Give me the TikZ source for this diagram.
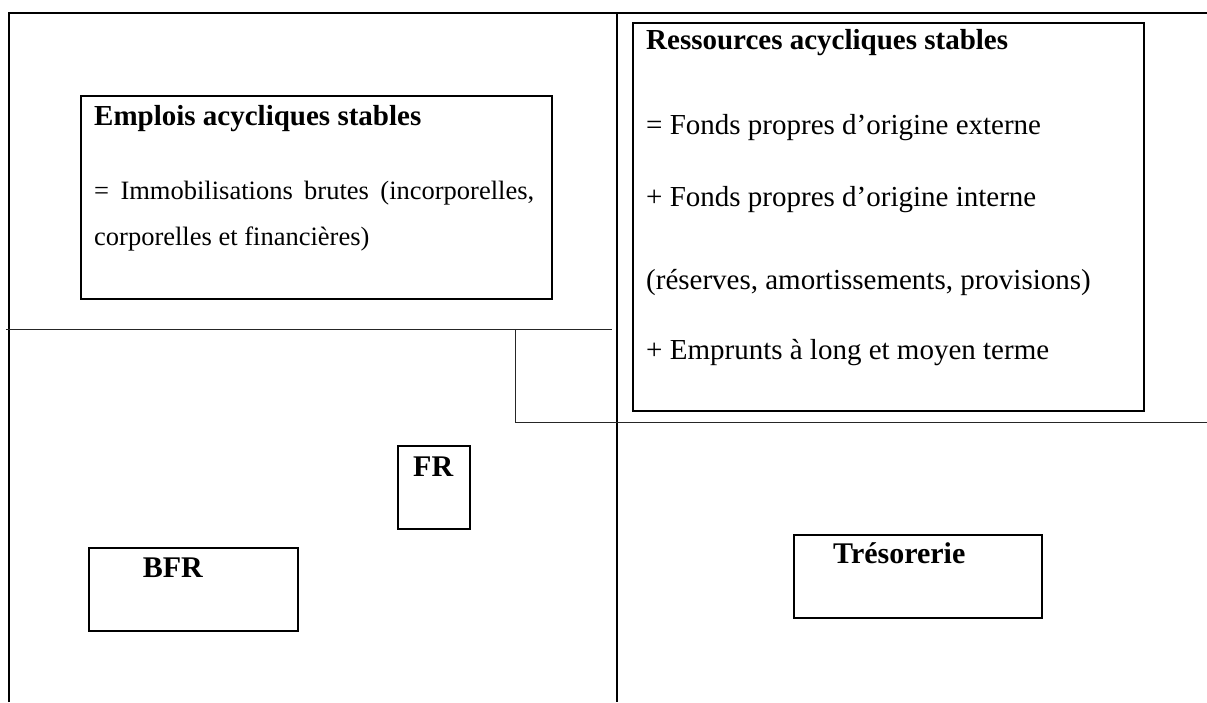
\documentclass[tikz,border=0pt]{standalone}
\usepackage{fontspec}
\setmainfont{Liberation Serif}
\begin{document}
\begin{tikzpicture}[x=1pt,y=-1pt,
  frame/.style={line width=2pt,black},
  thin/.style={line width=1.3pt,black!85},
  boxnode/.style={draw,line width=2pt,rectangle,inner sep=0pt,anchor=north west},
  title/.style={anchor=base west,inner sep=0pt,font=\fontsize{29}{34}\selectfont\bfseries},
  bodyR/.style={anchor=base west,inner sep=0pt,font=\fontsize{29}{34}\selectfont},
  bodyL/.style={anchor=base west,inner sep=0pt,font=\fontsize{26.5}{32}\selectfont}]
\useasboundingbox (0,0) rectangle (1207,702);
% frame
\coordinate (tl) at (8.7,12.7);
\coordinate (tr) at (1207,12.7);
\coordinate (bl) at (8.7,702);
\coordinate (mt) at (616.7,12.7);
\coordinate (mb) at (616.7,702);
\coordinate (h1a) at (6,329.7);
\coordinate (h1b) at (611.7,329.7);
\coordinate (la) at (515.7,329.7);
\coordinate (lb) at (515.7,422.7);
\coordinate (lc) at (1207,422.7);
\draw[frame] (bl) -- (tl) -- (tr);
\draw[frame] (mt) -- (mb);
\draw[thin] (h1a) -- (h1b);
\draw[thin] (la) -- (lb) -- (lc);
% boxes
\node[boxnode,minimum width=471pt,minimum height=203pt] (emplois) at (80,95) {};
\node[boxnode,minimum width=511pt,minimum height=388pt] (ressources) at (632,22) {};
\node[boxnode,minimum width=72pt,minimum height=83pt] (frbox) at (397.3,444.7) {};
\node[boxnode,minimum width=209pt,minimum height=83pt] (bfrbox) at (87.5,546.7) {};
\node[boxnode,minimum width=248pt,minimum height=83pt] (tresobox) at (793,534) {};
% texts
\node[title] (t1) at (94,125) {Emplois acycliques stables};
\node[bodyL] (t2) at (94,199) {\makebox[440pt][s]{= Immobilisations brutes (incorporelles,}};
\node[bodyL] (t3) at (94,245) {corporelles et financières)};
\node[title] (r1) at (646,49) {Ressources acycliques stables};
\node[bodyR] (r2) at (646,134) {= Fonds propres d’origine externe};
\node[bodyR] (r3) at (646,206) {+ Fonds propres d’origine interne};
\node[bodyR] (r4) at (646,289) {(réserves, amortissements, provisions)};
\node[bodyR] (r5) at (646,359) {+ Emprunts à long et moyen terme};
\node[title,font=\fontsize{30}{34}\selectfont\bfseries] (fr) at (413,476) {FR};
\node[title,font=\fontsize{30}{34}\selectfont\bfseries] (bfr) at (142.7,577) {BFR};
\node[title,font=\fontsize{30}{34}\selectfont\bfseries] (treso) at (833,563) {Trésorerie};
\end{tikzpicture}
\end{document}
